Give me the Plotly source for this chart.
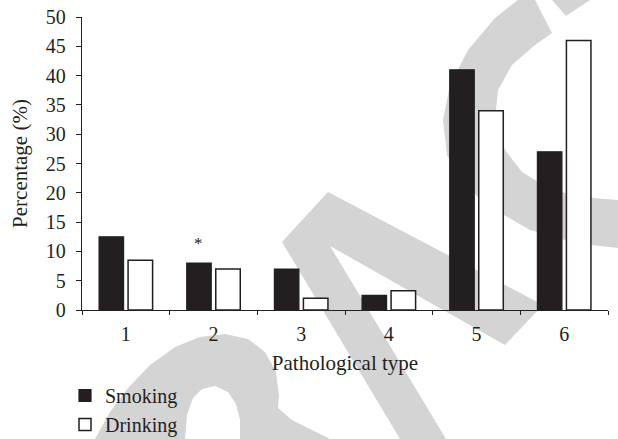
import plotly.graph_objects as go

# Pathological type categories and percentages per group
categories = ["1", "2", "3", "4", "5", "6"]
smoking = [12.5, 8, 7, 2.5, 41, 27]
drinking = [8.5, 7, 2, 3.3, 34, 46]
y_ticks = [0, 5, 10, 15, 20, 25, 30, 35, 40, 45, 50]

# figure geometry
W, H = 618, 439
ML, MR, MT, MB = 82, 10, 17, 129
PW, PH = W - ML - MR, H - MT - MB
BARGAP, BARGROUPGAP = 0.338, 0.155

FONT = "Liberation Serif"
INK = "#231f20"


def to_paper(pts):
    """Convert pixel points to a closed SVG path in paper coordinates."""
    out = []
    for i, (x, y) in enumerate(pts):
        px = (x - ML) / PW
        py = 1 - (y - MT) / PH
        out.append(("M" if i == 0 else "L") + f"{px:.4f},{py:.4f}")
    return " ".join(out) + " Z"


# light grey watermark strokes behind the bars
wm_arch = [(95, 439), (110, 412), (128, 388), (150, 365), (175, 347), (200, 337),
           (225, 334), (248, 339), (265, 352), (276, 372), (279, 395), (278, 408),
           (292, 420), (312, 430), (330, 439), (240, 439), (240, 420), (236, 404),
           (228, 392), (215, 386), (202, 389), (193, 398), (187, 415), (185, 439)]
wm_lambda = [(282, 242), (328, 192), (543, 305), (505, 345), (330, 246),
             (446, 439), (400, 439)]
wm_hook = [(518, 0), (495, 18), (468, 50), (450, 85), (443, 120), (447, 155),
           (462, 183), (490, 207), (530, 230), (575, 243), (618, 248), (618, 200),
           (580, 197), (548, 188), (522, 172), (505, 150), (495, 120), (498, 90),
           (512, 65), (535, 45), (552, 33), (535, 0)]
wm_wedge = [(552, 0), (590, 0), (566, 16)]

shapes = [
    dict(type="path", xref="paper", yref="paper", path=to_paper(p),
         fillcolor="#d4d4d4", line=dict(width=0), layer="below")
    for p in (wm_arch, wm_lambda, wm_hook, wm_wedge)
]

fig = go.Figure()
fig.add_trace(go.Bar(
    name="Smoking", x=categories, y=smoking,
    marker=dict(color=INK, line=dict(color=INK, width=1.2)),
))
fig.add_trace(go.Bar(
    name="Drinking", x=categories, y=drinking,
    marker=dict(color="white", line=dict(color=INK, width=1.5)),
))

# significance mark above the Smoking bar of type 2 (category index 1)
slot_px = PW / len(categories) * (1 - BARGAP) / 2
fig.add_annotation(
    x=categories.index("2"), y=11.3, text="*", showarrow=False,
    xshift=-slot_px / 2,
    font=dict(family=FONT, size=17, color=INK), yanchor="middle",
)

# legend sits below the axes; margins are held fixed
legend_left_px, legend_top_px = 65, 376

fig.update_layout(
    width=W, height=H,
    margin=dict(l=ML, r=MR, t=MT, b=MB, pad=0, autoexpand=False),
    paper_bgcolor="white", plot_bgcolor="rgba(0,0,0,0)",
    barmode="group", bargap=BARGAP, bargroupgap=BARGROUPGAP,
    font=dict(family=FONT, size=20, color=INK),
    shapes=shapes,
    showlegend=True,
    legend=dict(
        x=(legend_left_px - ML) / PW,
        y=1 - (legend_top_px - MT) / PH,
        xanchor="left", yanchor="top",
        orientation="v", bgcolor="rgba(0,0,0,0)",
        font=dict(family=FONT, size=20, color=INK),
        itemwidth=30, traceorder="normal",
    ),
    xaxis=dict(
        type="category", tickson="boundaries",
        showline=True, linecolor=INK, linewidth=1.3,
        ticks="outside", ticklen=4, tickwidth=1.2, tickcolor=INK,
        showgrid=False, zeroline=False, ticklabelstandoff=6,
        title=dict(text="Pathological type", standoff=11,
                   font=dict(family=FONT, size=21, color=INK)),
        tickfont=dict(family=FONT, size=20, color=INK),
    ),
    yaxis=dict(
        range=[0, 50], tickvals=y_ticks,
        showline=True, linecolor=INK, linewidth=1.3,
        ticks="outside", ticklen=5, tickwidth=1.2, tickcolor=INK,
        showgrid=False, zeroline=False, ticklabelstandoff=6,
        title=dict(text="Percentage (%)", standoff=12,
                   font=dict(family=FONT, size=21, color=INK)),
        tickfont=dict(family=FONT, size=20, color=INK),
    ),
)

fig.write_html("out.html")
